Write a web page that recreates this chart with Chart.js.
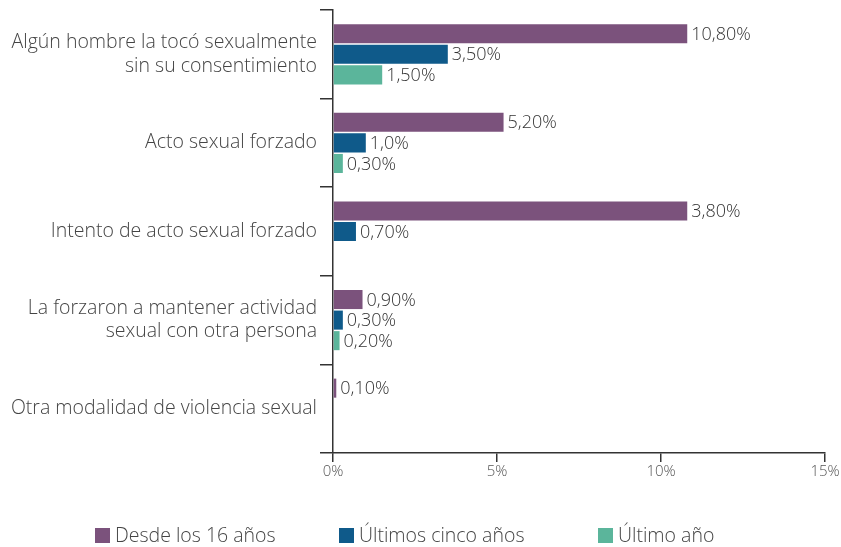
<!DOCTYPE html>
<html>
<head>
<meta charset="utf-8">
<script src="https://cdn.jsdelivr.net/npm/chart.js@4/dist/chart.umd.min.js"></script>
<style>
  body { margin: 0; background: #fff; }
  #wrap { width: 841px; height: 547px; position: relative; }
</style>
</head>
<body>
<div id="wrap"><canvas id="chart"></canvas></div>
<script>
const categories = [
    ['Algún hombre la tocó sexualmente', 'sin su consentimiento'],
    'Acto sexual forzado',
    'Intento de acto sexual forzado',
    ['La forzaron a mantener actividad', 'sexual con otra persona'],
    'Otra modalidad de violencia sexual'
];
const seriesNames = ['Desde los 16 años', 'Últimos cinco años', 'Último año'];
// bar lengths as drawn in the picture
const desde16 = [10.8, 5.2, 10.8, 0.9, 0.1];
const cincoAnos = [3.5, 1.0, 0.7, 0.3, null];
const ultimoAno = [1.5, 0.3, null, 0.2, null];
// value labels as printed next to the bars
const desde16Labels = ['10,80%', '5,20%', '3,80%', '0,90%', '0,10%'];
const cincoAnosLabels = ['3,50%', '1,0%', '0,70%', '0,30%', ''];
const ultimoAnoLabels = ['1,50%', '0,30%', '', '0,20%', ''];
const xTicks = [0, 5, 10, 15];

const colors = ['#7b527c', '#0f5a8a', '#5bb59b'];
const fontFamily = "'Open Sans', 'Noto Sans', sans-serif";

// value labels at the bar ends
const valueLabels = {
    id: 'valueLabels',
    afterDatasetsDraw(chart) {
        const ctx = chart.ctx;
        ctx.save();
        ctx.font = '300 18px ' + fontFamily;
        ctx.fillStyle = '#333';
        ctx.textBaseline = 'middle';
        ctx.textAlign = 'left';
        chart.data.datasets.forEach((ds, i) => {
            chart.getDatasetMeta(i).data.forEach((bar, j) => {
                const txt = ds.valueLabels[j];
                if (!txt || ds.data[j] == null) return;
                ctx.fillText(txt, bar.x + 4, bar.y + 1);
            });
        });
        ctx.restore();
    }
};

// legend along the bottom
const bottomLegend = {
    id: 'bottomLegend',
    afterDraw(chart) {
        const ctx = chart.ctx;
        ctx.save();
        ctx.font = '300 19.5px ' + fontFamily;
        ctx.textBaseline = 'middle';
        const y = 535;
        const starts = [95, 339, 598];
        chart.data.datasets.forEach((ds, i) => {
            ctx.fillStyle = ds.backgroundColor;
            ctx.fillRect(starts[i], y - 7, 15, 15);
            ctx.fillStyle = '#444';
            ctx.fillText(ds.label, starts[i] + 20, y + 1);
        });
        ctx.restore();
    }
};

const ctx = document.getElementById('chart').getContext('2d');
const chart = new Chart(ctx, {
    type: 'bar',
    data: {
        labels: categories,
        datasets: [
            { label: seriesNames[0], data: desde16, valueLabels: desde16Labels, backgroundColor: colors[0] },
            { label: seriesNames[1], data: cincoAnos, valueLabels: cincoAnosLabels, backgroundColor: colors[1] },
            { label: seriesNames[2], data: ultimoAno, valueLabels: ultimoAnoLabels, backgroundColor: colors[2] }
        ]
    },
    options: {
        indexAxis: 'y',
        responsive: true,
        maintainAspectRatio: false,
        animation: false,
        categoryPercentage: 0.696,
        barPercentage: 0.927,
        layout: { padding: { top: 10, right: 16, left: 0, bottom: 0 } },
        plugins: {
            legend: { display: false },
            tooltip: { enabled: false }
        },
        scales: {
            x: {
                min: 0,
                max: 15,
                afterBuildTicks: (scale) => { scale.ticks = xTicks.map(v => ({ value: v })); },
                afterFit: (scale) => { scale.height = 94; },
                grid: { drawOnChartArea: false, tickLength: 9, color: '#333', lineWidth: 1.5 },
                border: { color: '#333', width: 1.5 },
                ticks: {
                    callback: (v) => v + '%',
                    font: { family: fontFamily, size: 15, weight: 300 },
                    color: '#555',
                    padding: 1,
                    maxRotation: 0
                }
            },
            y: {
                afterFit: (scale) => {
                    scale.width = 333;
                    scale.paddingTop = 0;
                    scale.paddingBottom = 0;
                },
                grid: { drawOnChartArea: false, offset: true, tickLength: 13, color: '#333', lineWidth: 1.5 },
                border: { color: '#333', width: 1.5 },
                ticks: {
                    font: { family: fontFamily, size: 19.5, weight: 300, lineHeight: 1.2 },
                    color: '#444',
                    padding: 3
                }
            }
        }
    },
    plugins: [valueLabels, bottomLegend]
});
</script>
</body>
</html>
